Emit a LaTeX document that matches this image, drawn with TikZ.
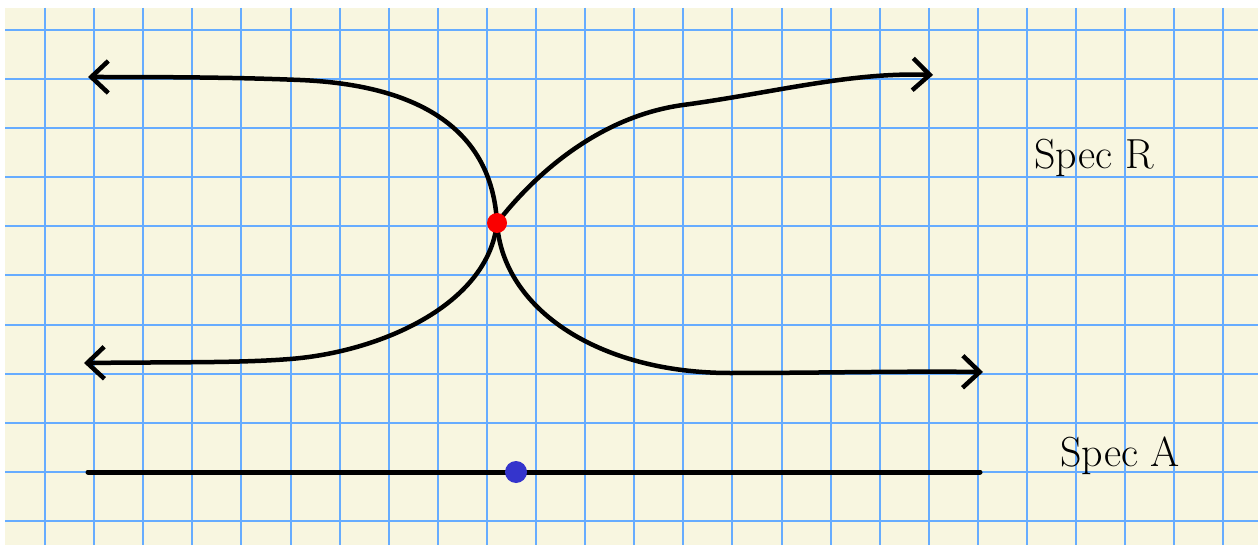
\documentclass[tikz,border=0pt]{standalone}
\usetikzlibrary{arrows.meta}
\definecolor{paper}{RGB}{248,246,224}
\definecolor{gridblue}{RGB}{102,172,255}
\definecolor{dotblue}{RGB}{52,52,204}
\definecolor{dotred}{RGB}{250,0,0}
\pgfdeclarelayer{paperlayer}
\pgfdeclarelayer{inklayer}
\pgfsetlayers{paperlayer,inklayer,main}
\tikzset{
  ink/.style={line width=4.5pt, line cap=round, line join=round, black},
  twoway/.style={{Straight Barb[length=17pt,width=32pt]}-{Straight Barb[length=17pt,width=32pt]}},
  dot/.style={circle, inner sep=0pt, minimum size=#1},
  gridline/.style={gridblue, line width=2pt},
  label/.style={font=\fontsize{42}{50}\selectfont, inner sep=0pt}
}
\begin{document}
\begin{tikzpicture}[x=1pt,y=-1pt]
\useasboundingbox (0,0) rectangle (1258,545);
\begin{pgfonlayer}{paperlayer}
  \fill[white] (0,0) rectangle (1258,545);
  \fill[paper] (5,8) rectangle (1258,545);
  \foreach \i in {0,...,24} \draw[gridline] ({45+49.1*\i},8) -- ({45+49.1*\i},545);
  \foreach \j in {0,...,10} \draw[gridline] (5,{30+49.1*\j}) -- (1258,{30+49.1*\j});
\end{pgfonlayer}

\node[dot=20pt, fill=dotred] (p) at (497,223) {};
\node[dot=22pt, fill=dotblue] (q) at (516,472) {};
\coordinate (tl) at (88,77);
\coordinate (br) at (983,372);
\coordinate (bl) at (84,363);
\coordinate (tr) at (933,75);
\coordinate (al) at (88,472);
\coordinate (ar) at (980,472);

\begin{pgfonlayer}{inklayer}
  \draw[ink, twoway] (tl) .. controls (200,77) and (250,78) .. (300,80)
      .. controls (420,85) and (492,130) .. (p.center)
      .. controls (503,310) and (600,373) .. (730,373)
      .. controls (820,373) and (900,371) .. (br);
  \draw[ink, twoway] (bl) .. controls (180,362) and (240,363) .. (290,359)
      .. controls (380,352) and (488,305) .. (p.center)
      .. controls (530,180) and (595,117) .. (683,105)
      .. controls (775,92.5) and (850,72) .. (tr);
  \draw[ink, line width=5pt] (al) -- (q.center) -- (ar);
\end{pgfonlayer}

\node[label] (specR) at (1094,158) {Spec R};
\node[label] (specA) at (1120,456) {Spec A};
\end{tikzpicture}
\end{document}
